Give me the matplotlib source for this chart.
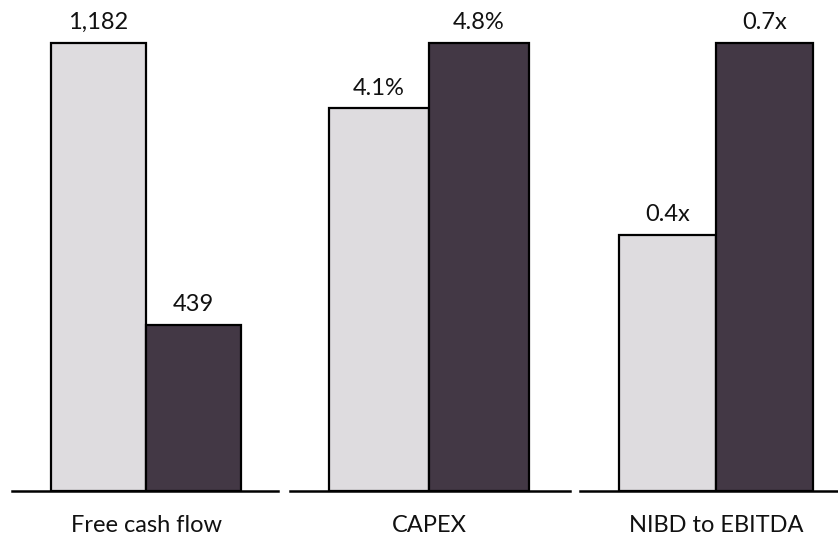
import matplotlib
matplotlib.use("Agg")
import matplotlib.pyplot as plt

plt.rcParams['font.family'] = ['Lato', 'DejaVu Sans']

categories = ["Free cash flow", "CAPEX", "NIBD to EBITDA"]
values_prior = [1182, 4.1, 0.4]
values_current = [439, 4.8, 0.7]
labels_prior = ["1,182", "4.1%", "0.4x"]
labels_current = ["439", "4.8%", "0.7x"]

light = "#dedcdf"
dark = "#433845"

W, H = 838, 534
fig = plt.figure(figsize=(W / 100, H / 100), dpi=100)

# panel geometry in pixels: axis left, axis right, bar unit width
panels = [
    (12, 278, 95),
    (290, 570, 100),
    (580, 851, 97),
]
base_y = 491   # baseline (pixels from top)
top_y = 20     # axes top (pixels from top)
bar_top = 43   # tallest bar top (pixels from top)

for i, (x0, x1, unit) in enumerate(panels):
    ax = fig.add_axes([x0 / W, (H - base_y) / H, (x1 - x0) / W, (base_y - top_y) / H])
    vmax = max(values_prior[i], values_current[i])
    ax.set_ylim(0, vmax * (base_y - top_y) / (base_y - bar_top))
    left_margin = 39 / unit
    ax.set_xlim(-1 - left_margin, -1 - left_margin + (x1 - x0) / unit)
    bars = ax.bar([-0.5, 0.5], [values_prior[i], values_current[i]], width=1.0,
                  color=[light, dark], edgecolor="black", linewidth=1.6, zorder=2)
    for b, lab in zip(bars, [labels_prior[i], labels_current[i]]):
        ax.annotate(lab, (b.get_x() + b.get_width() / 2, b.get_height()),
                    xytext=(0, 7), textcoords="offset points",
                    ha="center", va="bottom", fontsize=17, color="#111111",
                    annotation_clip=False)
    for s in ["top", "left", "right"]:
        ax.spines[s].set_visible(False)
    ax.spines["bottom"].set_linewidth(1.8)
    ax.spines["bottom"].set_color("black")
    ax.set_yticks([])
    ax.set_xticks([0])
    ax.set_xticklabels([categories[i]], fontsize=17, color="#111111")
    ax.tick_params(axis="x", length=0, pad=17)

fig.savefig("out.png", dpi=100)
